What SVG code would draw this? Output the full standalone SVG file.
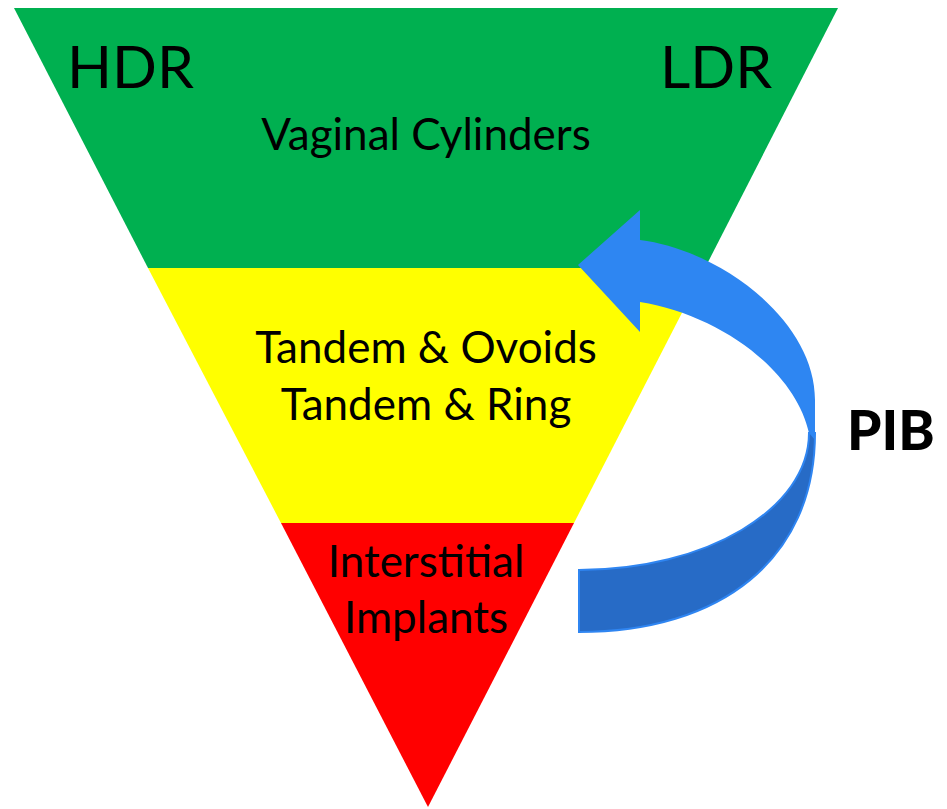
<svg xmlns="http://www.w3.org/2000/svg" width="947" height="809" viewBox="0 0 947 809">
<style>
.t{font-family:Lato,"Open Sans","Liberation Sans",sans-serif;fill:#000;}
.big{font-size:59px;}
.mid{font-size:44px;text-anchor:middle;}
.pib{font-size:55px;font-weight:900;}
</style>
<rect width="947" height="809" fill="#fff"/>
<g id="green-band">
<polygon points="14,8 838,8 705,268 148,268" fill="#00B050"/>
<text class="t big" x="67" y="88">HDR</text>
<text class="t big" x="660" y="88">LDR</text>
<text class="t mid" x="426" y="150">Vaginal Cylinders</text>
</g>
<g id="yellow-band">
<polygon points="148,268 705,268 574,523 281,523" fill="#FFFF00"/>
<text class="t mid" x="426" y="363">Tandem &amp; Ovoids</text>
<text class="t mid" x="426" y="420">Tandem &amp; Ring</text>
</g>
<g id="red-band">
<polygon points="281,523 574,523 428,807" fill="#FF0000"/>
<text class="t mid" x="426" y="577">Interstitial</text>
<text class="t mid" x="426" y="633">Implants</text>
</g>
<g id="connectors">
<path d="M579,570 C706,570 809,509 809,433 L815,433 C815,560 720,632 579,632 Z" fill="#276BC6" stroke="#2F85F1" stroke-width="2"/>
<path d="M578,265 L640,210 L640,240 C720,250 815,320 815,400 L815,440 L809,433 C795,370 720,315 640,302 L640,332 Z" fill="#2E86F2"/>
</g>
<g id="pib-label">
<text class="t pib" x="847" y="450">PIB</text>
</g>
</svg>
